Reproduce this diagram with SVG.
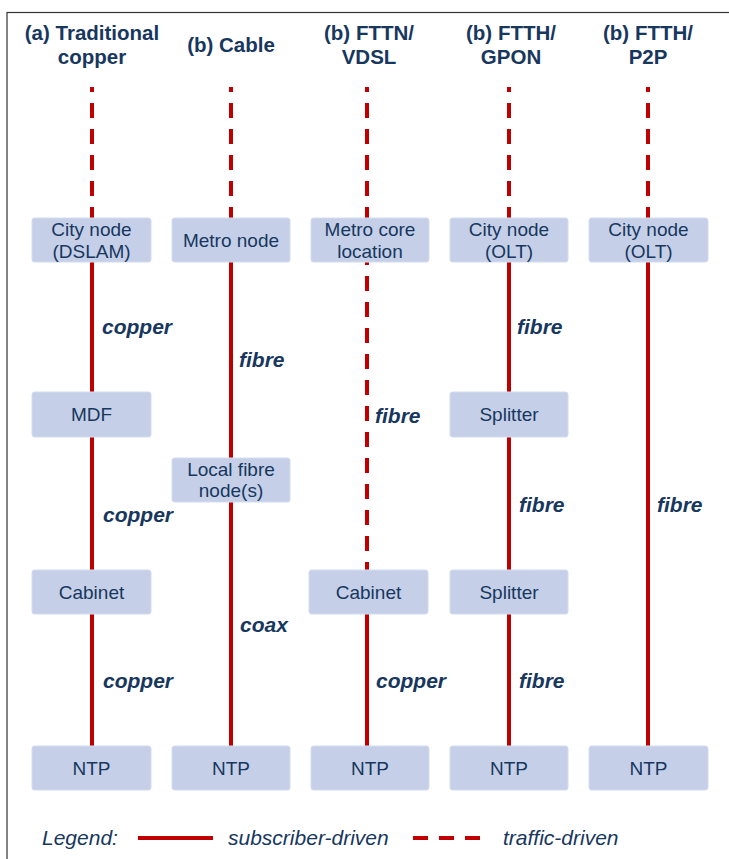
<svg xmlns="http://www.w3.org/2000/svg" width="729" height="859" viewBox="0 0 729 859">
<style>
.frame{fill:none;stroke:#333;stroke-width:1.2}
.box{fill:#c5d0e8;stroke:#d3dcef;stroke-width:1}
.nt{font-family:"Liberation Sans",Arial,sans-serif;font-size:19px;fill:#17375e;text-anchor:middle}
.hd{font-family:"Liberation Sans",Arial,sans-serif;font-size:20.5px;font-weight:bold;fill:#17375e;text-anchor:middle}
.lb{font-family:"Liberation Sans",Arial,sans-serif;font-size:21px;font-weight:bold;font-style:italic;fill:#17375e}
.lg{font-family:"Liberation Sans",Arial,sans-serif;font-size:21px;font-style:italic;fill:#17375e}
.s{stroke:#c00000;stroke-width:4;fill:none}
.d{stroke:#c00000;stroke-width:4;fill:none;stroke-dasharray:15 11}
</style>
<rect class="frame" x="7" y="12.5" width="740" height="860"/>
<g id="headers">
<text class="hd" x="92" y="40">(a) Traditional</text>
<text class="hd" x="92" y="64">copper</text>
<text class="hd" x="231" y="52">(b) Cable</text>
<text class="hd" x="369" y="40">(b) FTTN/</text>
<text class="hd" x="369" y="64">VDSL</text>
<text class="hd" x="511" y="40">(b) FTTH/</text>
<text class="hd" x="511" y="64">GPON</text>
<text class="hd" x="648" y="40">(b) FTTH/</text>
<text class="hd" x="648" y="64">P2P</text>
</g>
<g id="connectors">
<line class="d" x1="92" y1="87" x2="92" y2="220" stroke-dashoffset="10"/>
<line class="d" x1="231" y1="87" x2="231" y2="220" stroke-dashoffset="10"/>
<line class="d" x1="367" y1="87" x2="367" y2="220" stroke-dashoffset="10"/>
<line class="d" x1="509" y1="87" x2="509" y2="220" stroke-dashoffset="10"/>
<line class="d" x1="648" y1="87" x2="648" y2="220" stroke-dashoffset="10"/>
<line class="s" x1="92" y1="260" x2="92" y2="394"/>
<line class="s" x1="92" y1="435" x2="92" y2="572"/>
<line class="s" x1="92" y1="612" x2="92" y2="748"/>
<line class="s" x1="231" y1="260" x2="231" y2="460"/>
<line class="s" x1="231" y1="500" x2="231" y2="748"/>
<line class="d" x1="367" y1="262" x2="367" y2="572" stroke-dasharray="14 12" stroke-dashoffset="12"/>
<line class="s" x1="367" y1="612" x2="367" y2="748"/>
<line class="s" x1="509" y1="260" x2="509" y2="394"/>
<line class="s" x1="509" y1="435" x2="509" y2="572"/>
<line class="s" x1="509" y1="612" x2="509" y2="748"/>
<line class="s" x1="648" y1="260" x2="648" y2="748"/>
</g>
<g id="n-city-dslam"><rect class="box" x="32" y="218" width="119" height="44" rx="2.5"/><text class="nt" x="91.5" y="236">City node</text><text class="nt" x="91.5" y="258">(DSLAM)</text></g>
<g id="n-metro-node"><rect class="box" x="172" y="218" width="118" height="44" rx="2.5"/><text class="nt" x="231" y="247">Metro node</text></g>
<g id="n-metro-core"><rect class="box" x="311" y="218" width="118" height="44" rx="2.5"/><text class="nt" x="370" y="236">Metro core</text><text class="nt" x="370" y="258">location</text></g>
<g id="n-city-olt1"><rect class="box" x="450" y="218" width="118" height="44" rx="2.5"/><text class="nt" x="509" y="236">City node</text><text class="nt" x="509" y="258">(OLT)</text></g>
<g id="n-city-olt2"><rect class="box" x="589" y="218" width="119" height="44" rx="2.5"/><text class="nt" x="648.5" y="236">City node</text><text class="nt" x="648.5" y="258">(OLT)</text></g>
<g id="n-mdf"><rect class="box" x="32" y="392" width="119" height="45" rx="2.5"/><text class="nt" x="91.5" y="421">MDF</text></g>
<g id="n-splitter1"><rect class="box" x="450" y="392" width="118" height="45" rx="2.5"/><text class="nt" x="509" y="421">Splitter</text></g>
<g id="n-local-fibre"><rect class="box" x="172" y="458" width="118" height="44" rx="2.5"/><text class="nt" x="231" y="476">Local fibre</text><text class="nt" x="231" y="497">node(s)</text></g>
<g id="n-cabinet1"><rect class="box" x="32" y="570" width="119" height="44" rx="2.5"/><text class="nt" x="91.5" y="599">Cabinet</text></g>
<g id="n-cabinet2"><rect class="box" x="309" y="570" width="119" height="44" rx="2.5"/><text class="nt" x="368.5" y="599">Cabinet</text></g>
<g id="n-splitter2"><rect class="box" x="450" y="570" width="118" height="44" rx="2.5"/><text class="nt" x="509" y="599">Splitter</text></g>
<g id="n-ntp1"><rect class="box" x="32" y="746" width="119" height="44" rx="2.5"/><text class="nt" x="91.5" y="775">NTP</text></g>
<g id="n-ntp2"><rect class="box" x="172" y="746" width="118" height="44" rx="2.5"/><text class="nt" x="231" y="775">NTP</text></g>
<g id="n-ntp3"><rect class="box" x="311" y="746" width="118" height="44" rx="2.5"/><text class="nt" x="370" y="775">NTP</text></g>
<g id="n-ntp4"><rect class="box" x="450" y="746" width="118" height="44" rx="2.5"/><text class="nt" x="509" y="775">NTP</text></g>
<g id="n-ntp5"><rect class="box" x="589" y="746" width="119" height="44" rx="2.5"/><text class="nt" x="648.5" y="775">NTP</text></g>
<g id="labels">
<text class="lb" x="102" y="334">copper</text>
<text class="lb" x="239" y="367">fibre</text>
<text class="lb" x="375" y="423">fibre</text>
<text class="lb" x="517" y="334">fibre</text>
<text class="lb" x="103" y="522">copper</text>
<text class="lb" x="519" y="512">fibre</text>
<text class="lb" x="657" y="512">fibre</text>
<text class="lb" x="240" y="632">coax</text>
<text class="lb" x="103" y="688">copper</text>
<text class="lb" x="376" y="688">copper</text>
<text class="lb" x="519" y="688">fibre</text>
</g>
<g id="legend">
<text class="lg" x="42" y="845">Legend:</text>
<line class="s" x1="138" y1="838" x2="213" y2="838"/>
<text class="lg" x="228" y="845">subscriber-driven</text>
<line class="d" x1="413" y1="838" x2="480" y2="838"/>
<text class="lg" x="503" y="845">traffic-driven</text>
</g>
</svg>
